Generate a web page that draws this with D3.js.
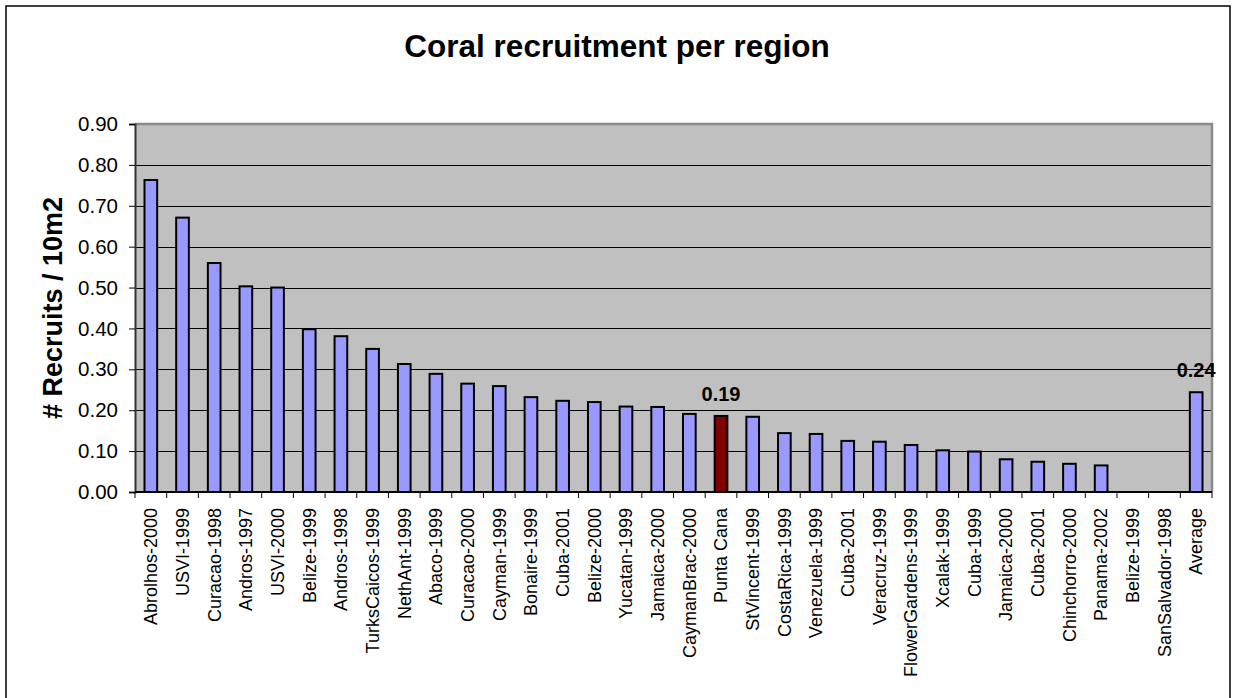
<!DOCTYPE html>
<html>
<head>
<meta charset="utf-8">
<script src="https://cdn.jsdelivr.net/npm/d3@7"></script>
<style>
  html, body { margin: 0; padding: 0; background: #fff; }
  svg { display: block; font-family: Arial, "Liberation Sans", sans-serif; }
</style>
</head>
<body>
<svg id="chart" width="1233" height="698"></svg>
<script>
// Recruit density per survey site (recruits per 10 m2), sorted high to low, plus the overall average
const sites = [
  "Abrolhos-2000", "USVI-1999", "Curacao-1998", "Andros-1997", "USVI-2000",
  "Belize-1999", "Andros-1998", "TurksCaicos-1999", "NethAnt-1999", "Abaco-1999",
  "Curacao-2000", "Cayman-1999", "Bonaire-1999", "Cuba-2001", "Belize-2000",
  "Yucatan-1999", "Jamaica-2000", "CaymanBrac-2000", "Punta Cana", "StVincent-1999",
  "CostaRica-1999", "Venezuela-1999", "Cuba-2001", "Veracruz-1999", "FlowerGardens-1999",
  "Xcalak-1999", "Cuba-1999", "Jamaica-2000", "Cuba-2001", "Chinchorro-2000",
  "Panama-2002", "Belize-1999", "SanSalvador-1998", "Average"
];
const recruits = [
  0.763, 0.671, 0.560, 0.503, 0.500,
  0.398, 0.381, 0.350, 0.313, 0.289,
  0.265, 0.259, 0.232, 0.223, 0.220,
  0.209, 0.208, 0.191, 0.186, 0.184,
  0.144, 0.142, 0.125, 0.123, 0.115,
  0.102, 0.099, 0.080, 0.074, 0.069,
  0.065, 0, 0, 0.244
];
const yTicks = [0, 0.1, 0.2, 0.3, 0.4, 0.5, 0.6, 0.7, 0.8, 0.9];
const highlighted = ["Punta Cana"];
const labelled = ["Punta Cana", "Average"];

const svg = d3.select("#chart");
const plot = { left: 135, right: 1212, top: 124, bottom: 492 };

// outer frame
svg.append("rect")
  .attr("x", 6).attr("y", 6)
  .attr("width", 1224).attr("height", 700)
  .attr("fill", "#fff").attr("stroke", "#000").attr("stroke-width", 1.5);

// title
svg.append("text")
  .attr("x", 617).attr("y", 57)
  .attr("text-anchor", "middle")
  .attr("font-size", 31.5).attr("font-weight", "bold")
  .text("Coral recruitment per region");

const idx = d3.range(sites.length);
const x = d3.scaleBand()
  .domain(idx)
  .range([plot.left, plot.right])
  .paddingInner(0.6)
  .paddingOuter(0.3);
const y = d3.scaleLinear().domain([0, 0.9]).range([plot.bottom, plot.top]);

// plot background
svg.append("rect")
  .attr("x", plot.left).attr("y", plot.top)
  .attr("width", plot.right - plot.left).attr("height", plot.bottom - plot.top)
  .attr("fill", "#c0c0c0");

// horizontal gridlines
svg.append("g")
  .selectAll("line")
  .data(yTicks.filter(t => t > 0 && t < 0.9))
  .join("line")
  .attr("x1", plot.left).attr("x2", plot.right)
  .attr("y1", d => Math.round(y(d)) + 0.5).attr("y2", d => Math.round(y(d)) + 0.5)
  .attr("stroke", "#000").attr("stroke-width", 1);

// plot frame (top and right in grey)
svg.append("path")
  .attr("d", `M${plot.left},${plot.top}H${plot.right}V${plot.bottom}`)
  .attr("fill", "none").attr("stroke", "#8a8a8a").attr("stroke-width", 2.5);

// bars
svg.append("g")
  .selectAll("rect")
  .data(idx.filter(i => recruits[i] > 0))
  .join("rect")
  .attr("x", i => x(i))
  .attr("y", i => y(recruits[i]))
  .attr("width", x.bandwidth())
  .attr("height", i => y(0) - y(recruits[i]))
  .attr("fill", i => highlighted.includes(sites[i]) ? "#800000" : "#9999ff")
  .attr("stroke", "#000").attr("stroke-width", 2);

// value labels
svg.append("g")
  .selectAll("text")
  .data(idx.filter(i => labelled.includes(sites[i])))
  .join("text")
  .attr("x", i => x(i) + x.bandwidth() / 2)
  .attr("y", i => y(recruits[i]) - 15)
  .attr("text-anchor", "middle")
  .attr("font-size", 20).attr("font-weight", "bold")
  .text(i => d3.format(".2f")(recruits[i]));

// y axis
const yAxis = d3.axisLeft(y)
  .tickValues(yTicks)
  .tickFormat(d3.format(".2f"))
  .tickSize(6)
  .tickPadding(11);
const gy = svg.append("g")
  .attr("transform", `translate(${plot.left},0)`)
  .call(yAxis);
gy.select(".domain").attr("stroke", "#333").attr("stroke-width", 2);
gy.selectAll(".tick line").attr("stroke", "#000");
gy.selectAll(".tick text")
  .attr("font-size", 20.5).attr("font-family", "Arial, 'Liberation Sans', sans-serif")
  .attr("fill", "#000");

// x axis: tick marks sit between categories
const gx = svg.append("g").attr("transform", `translate(0,${plot.bottom})`);
gx.append("line")
  .attr("x1", plot.left).attr("x2", plot.right)
  .attr("stroke", "#000").attr("stroke-width", 2);
const bounds = idx.map(i => x(i) - x.step() * x.paddingInner() / 2).concat([plot.right]);
gx.selectAll("line.tick")
  .data(bounds)
  .join("line")
  .attr("class", "tick")
  .attr("x1", d => d).attr("x2", d => d)
  .attr("y1", 0).attr("y2", 6)
  .attr("stroke", "#000").attr("stroke-width", 1);
gx.selectAll("text")
  .data(idx)
  .join("text")
  .attr("transform", i => `translate(${x(i) + x.bandwidth() / 2},16) rotate(-90)`)
  .attr("text-anchor", "end")
  .attr("dy", "0.35em")
  .attr("font-size", 18)
  .text(i => sites[i]);

// y axis title
svg.append("text")
  .attr("transform", `translate(62,${(plot.top + plot.bottom) / 2}) rotate(-90)`)
  .attr("text-anchor", "middle")
  .attr("font-size", 27).attr("font-weight", "bold")
  .text("# Recruits / 10m2");
</script>
</body>
</html>
